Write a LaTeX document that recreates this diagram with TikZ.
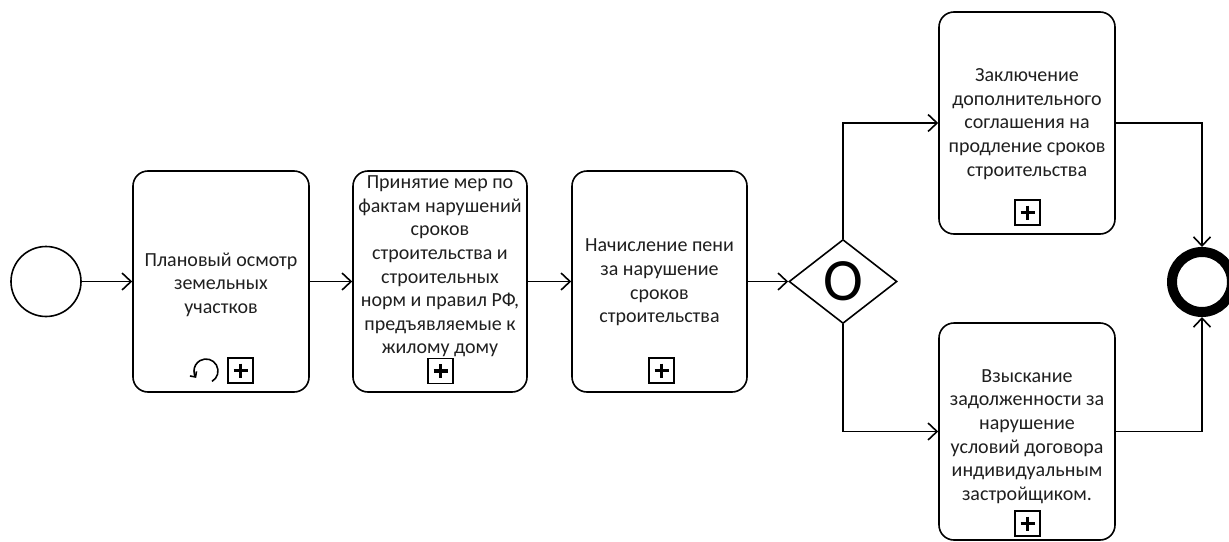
\documentclass[tikz,border=0pt]{standalone}
\usepackage{fontspec}
\setmainfont{Carlito}
\usetikzlibrary{arrows.meta,shapes.geometric}
\begin{document}
\begin{tikzpicture}[x=1pt,y=-1pt,
  lw/.style={line width=1.6pt},
  flow/.style={lw, -{Straight Barb[length=9pt,width=17pt]}},
  task/.style={draw, lw, rounded corners=15pt, inner sep=0pt},
  lbl/.style={font=\fontsize{20}{23.6}\selectfont, align=center, inner sep=0pt, text=black!88},
  plusmark/.pic={
    \node[draw, lw, minimum size=25pt, inner sep=0pt] (-box) {};
    \draw[line width=3.2pt] (-7,0) -- (7,0) (0,-7) -- (0,7);
  }
]
\useasboundingbox (0,0) rectangle (1229,541);

% events
\node[draw, lw, circle, minimum size=70pt, inner sep=0pt] (start) at (46,281.5) {};
\node[draw, circle, line width=10pt, minimum size=60pt, inner sep=0pt] (end) at (1202,282) {};

% tasks
\node[task, minimum width=176pt, minimum height=221pt] (t1) at (221,281.5) {};
\node[task, minimum width=174pt, minimum height=221pt] (t2) at (440,281.5) {};
\node[task, minimum width=175pt, minimum height=221pt] (t3) at (659.5,281.5) {};
\node[task, minimum width=176pt, minimum height=222pt] (top) at (1027,123) {};
\node[task, minimum width=176pt, minimum height=217pt] (bot) at (1027,431.5) {};

% texts
\node[lbl] (t1l) at (221,284.5) {Плановый осмотр\\земельных\\участков};
\node[lbl] (t2l) at (440,266.5) {Принятие мер по\\фактам нарушений\\сроков\\строительства и\\строительных\\норм и правил РФ,\\предъявляемые к\\жилому дому};
\node[lbl] (t3l) at (659.5,282.5) {Начисление пени\\за нарушение\\сроков\\строительства};
\node[lbl] (topl) at (1027,124) {Заключение\\дополнительного\\соглашения на\\продление сроков\\строительства};
\node[lbl] (botl) at (1027,436.5) {Взыскание\\задолженности за\\нарушение\\условий договора\\индивидуальным\\застройщиком.};

% markers
\pic (p1) at (240.5,370.5) {plusmark};
\pic (p2) at (440.5,371) {plusmark};
\pic (p3) at (661.5,370.5) {plusmark};
\pic (p4) at (1027.5,212.5) {plusmark};
\pic (p5) at (1027.5,523.5) {plusmark};
\coordinate (loopc) at (206,371);
\draw[lw, -{Straight Barb[length=4pt,width=8pt]}] (loopc) ++(60:12) arc[start angle=60, end angle=-215, radius=12];

% gateway
\node[draw, lw, diamond, minimum width=108pt, minimum height=84pt, inner sep=0pt,
      font=\fontsize{60}{60}\selectfont] (gw) at (843,281.5) {O};

% connectors
\draw[flow] (start) -- (t1);
\draw[flow] (t1) -- (t2);
\draw[flow] (t2) -- (t3);
\draw[flow] (t3) -- (gw);
\draw[flow] (gw.north) |- (top.west);
\draw[flow] (gw.south) |- (bot.west);
\draw[flow] (top.east) -| (end.north);
\draw[flow] (bot.east) -| (end.south);
\end{tikzpicture}
\end{document}
